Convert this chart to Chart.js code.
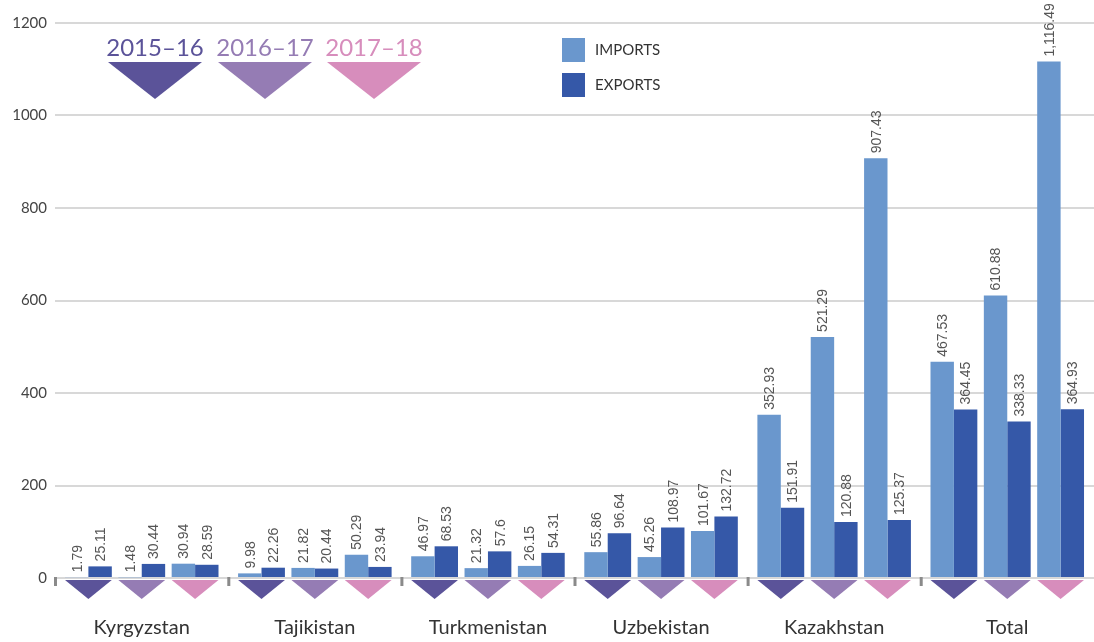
<!DOCTYPE html>
<html>
<head>
<meta charset="utf-8">
<script src="https://cdn.jsdelivr.net/npm/chart.js@4"></script>
<style>
  html, body { margin: 0; padding: 0; background: #fff; }
  #wrap { width: 1094px; height: 642px; position: relative; }
</style>
</head>
<body>
<div id="wrap"><canvas id="tradeChart"></canvas></div>
<script>
// data (group-major: each country has 2015-16, 2016-17, 2017-18)
var groups = ["Kyrgyzstan", "Tajikistan", "Turkmenistan", "Uzbekistan", "Kazakhstan", "Total"];
var years = ["2015\u201316", "2016\u201317", "2017\u201318"];
var imports = [1.79, 1.48, 30.94, 9.98, 21.82, 50.29, 46.97, 21.32, 26.15, 55.86, 45.26, 101.67, 352.93, 521.29, 907.43, 467.53, 610.88, 1116.49];
var exports = [25.11, 30.44, 28.59, 22.26, 20.44, 23.94, 68.53, 57.6, 54.31, 96.64, 108.97, 132.72, 151.91, 120.88, 125.37, 364.45, 338.33, 364.93];
var yTicks = [0, 200, 400, 600, 800, 1000, 1200];

var yearColors = ["#5b5399", "#957cb4", "#d78dbc"];
var importColor = "#6a97cd";
var exportColor = "#3558a8";

// a group takes a bit more than three pair slots, leaving a gap between countries
var groupSpan = 3.245;
var edge = 0.626;
function xPos(i) { return Math.floor(i / 3) * groupSpan + (i % 3); }

var importPts = imports.map(function(v, i) { return { x: xPos(i), y: v }; });
var exportPts = exports.map(function(v, i) { return { x: xPos(i), y: v }; });

// value labels, triangles, separators and legend
var decorations = {
  id: "decorations",
  afterDatasetsDraw: function(chart) {
    var ctx = chart.ctx;
    var xs = chart.scales.x, ys = chart.scales.y;
    var zeroY = ys.getPixelForValue(0);
    var m0 = chart.getDatasetMeta(0), m1 = chart.getDatasetMeta(1);

    ctx.save();
    // year triangles under each pair
    m0.data.forEach(function(b0, i) {
      var b1 = m1.data[i];
      var l = b0.x - b0.width / 2, r = b1.x + b1.width / 2;
      ctx.fillStyle = yearColors[i % 3];
      ctx.beginPath();
      ctx.moveTo(l, zeroY + 2);
      ctx.lineTo(r, zeroY + 2);
      ctx.lineTo((l + r) / 2, zeroY + 21);
      ctx.closePath();
      ctx.fill();
    });

    // separators between countries
    ctx.fillStyle = "#8a8a8a";
    for (var g = 0; g < groups.length; g++) {
      var v = g === 0 ? -edge : (g * groupSpan + (g - 1) * groupSpan + 2) / 2;
      var px = xs.getPixelForValue(v);
      ctx.fillRect(px - 1, zeroY - 1, 3, 9);
    }

    // rotated value labels
    ctx.fillStyle = "#555";
    ctx.font = "14px 'Liberation Sans', Arial, sans-serif";
    ctx.textAlign = "left";
    ctx.textBaseline = "middle";
    [m0, m1].forEach(function(meta, d) {
      var vals = d === 0 ? imports : exports;
      meta.data.forEach(function(bar, i) {
        var txt = vals[i].toLocaleString("en-US", { maximumFractionDigits: 2 });
        ctx.save();
        ctx.translate(bar.x, bar.y - 5);
        ctx.rotate(-Math.PI / 2);
        ctx.fillText(txt, 0, 1);
        ctx.restore();
      });
    });

    // year legend
    var legX = [108, 218, 327];
    ctx.font = "24px Lato, sans-serif";
    ctx.textAlign = "center";
    ctx.textBaseline = "middle";
    years.forEach(function(y, k) {
      ctx.fillStyle = yearColors[k];
      ctx.fillText(y, legX[k] + 47, 48);
      ctx.beginPath();
      ctx.moveTo(legX[k], 62);
      ctx.lineTo(legX[k] + 94, 62);
      ctx.lineTo(legX[k] + 47, 99);
      ctx.closePath();
      ctx.fill();
    });

    // imports / exports legend
    ctx.font = "15px Lato, sans-serif";
    ctx.textAlign = "left";
    [["IMPORTS", importColor, 38], ["EXPORTS", exportColor, 73]].forEach(function(e) {
      ctx.fillStyle = e[1];
      ctx.fillRect(562, e[2], 23, 24);
      ctx.fillStyle = "#333";
      ctx.fillText(e[0], 595, e[2] + 12);
    });
    ctx.restore();
  }
};

new Chart(document.getElementById("tradeChart"), {
  type: "bar",
  data: {
    datasets: [
      { label: "IMPORTS", data: importPts, backgroundColor: importColor, borderWidth: 0 },
      { label: "EXPORTS", data: exportPts, backgroundColor: exportColor, borderWidth: 0 }
    ]
  },
  options: {
    responsive: true,
    maintainAspectRatio: false,
    animation: false,
    layout: { padding: { top: 23, right: 0, left: 0, bottom: 0 } },
    categoryPercentage: 0.878,
    barPercentage: 1.0,
    plugins: { legend: { display: false }, tooltip: { enabled: false } },
    scales: {
      x: {
        type: "linear",
        offset: false,
        min: -edge,
        max: (groups.length - 1) * groupSpan + 2 + edge,
        grid: { display: false, drawTicks: false },
        border: { display: false },
        afterBuildTicks: function(scale) {
          scale.ticks = groups.map(function(_, g) { return { value: g * groupSpan + 1 }; });
        },
        afterFit: function(scale) { scale.height = 64; },
        ticks: {
          autoSkip: false,
          maxRotation: 0,
          padding: 38,
          color: "#333",
          font: { family: "Lato", size: 20 },
          callback: function(v, i) { return groups[i]; }
        }
      },
      y: {
        min: 0,
        max: 1200,
        afterBuildTicks: function(scale) {
          scale.ticks = yTicks.map(function(v) { return { value: v }; });
        },
        afterFit: function(scale) { scale.width = 55; },
        grid: { color: "#d8d8d8", lineWidth: 2, drawTicks: false },
        border: { display: false },
        ticks: {
          padding: 8, color: "#444", font: { family: "Lato", size: 15 },
          callback: function(v) { return String(v); }
        }
      }
    }
  },
  plugins: [decorations]
});
</script>
</body>
</html>
